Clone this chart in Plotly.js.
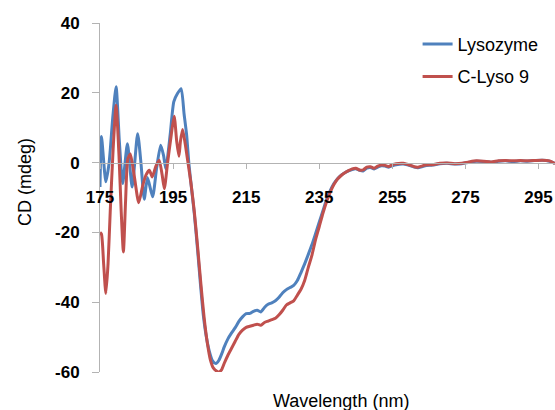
<!DOCTYPE html>
<html>
<head>
<meta charset="utf-8">
<script src="https://cdn.plot.ly/plotly-3.0.1.min.js"></script>
<style>html,body{margin:0;padding:0;background:#fff;}#chart{width:555px;height:410px;}</style>
</head>
<body>
<div id="chart"></div>
<script>
// Lysozyme
const wavelengthLyso = [175.0,175.4,176.6,177.5,178.5,179.4,180.3,181.2,182.5,183.8,185.3,186.2,187.1,188.0,189.4,190.5,191.6,192.4,193.0,194.2,195.2,196.2,197.2,198.0,198.7,199.3,200.0,200.8,201.7,202.5,203.3,204.1,204.9,205.8,206.7,207.5,208.3,209,210,211,212,213,214,215,216,217,218,219,220,221,222,223,224,225,226,227,228,229,230,231,232,233,234,235,236,237,238,239,240,241,242,243,244,245,246,247,248,249,250,251,252,253,254,255,256,258,260,261,262,263,264,266,268,270,272,274,276,278,280,282,284,286,288,290,292,294,296,298,299.5];
const cdLyso = [-7,7.5,-5.5,0,13,21.7,6,-6,5.4,-7,8.3,0,-10.5,-4.3,-9.8,-1.5,5,2,-1.8,8,17.5,19.8,21.2,14,8,0,-7,-14.6,-25,-35,-44,-50,-54,-56.8,-57.6,-56.7,-54.8,-52.8,-50.5,-48.8,-47.3,-45.5,-44.2,-43.3,-43.2,-42.6,-42.3,-42.8,-41.5,-40.6,-40.2,-39.6,-38.6,-37.3,-36.4,-35.8,-35.2,-33.8,-31.5,-29,-26.3,-23.5,-20.3,-17,-13.8,-10.5,-8,-6,-4.6,-3.6,-2.9,-2.4,-2.0,-1.8,-2.2,-2.4,-1.6,-1.4,-1.8,-1.3,-0.9,-1.0,-1.3,-0.9,-0.6,-0.4,-0.9,-1.3,-1.5,-1.2,-0.9,-0.7,-0.3,-0.2,-0.4,-0.3,0.1,0.4,0.3,0.1,0.4,0.5,0.3,0.5,0.4,0.6,0.7,0.4,-0.2];

// C-Lyso 9
const wavelengthCLyso = [175.0,175.4,176.0,176.6,177.2,177.8,178.6,179.4,180.2,180.8,181.4,182.0,182.6,183.3,184.4,185.6,186.7,187.6,188.5,189.3,190.3,191.2,192.0,192.6,193.5,194.5,195.3,196.0,196.6,197.0,197.6,198.3,199.0,199.9,200.8,201.7,202.6,203.5,204.4,205.2,206.0,207.0,207.6,208.3,209,210,211,212,213,214,215,216,217,218,219,220,221,222,223,224,225,226,227,228,229,230,231,232,233,234,235,236,237,238,239,240,241,242,243,244,245,246,247,248,249,250,251,252,253,254,255,256,258,260,261,262,263,264,266,268,270,272,274,276,278,280,282,284,286,288,290,292,294,296,298,299.5];
const cdCLyso = [-20,-20.5,-29,-37.5,-29,-14,4,16.4,2,-14,-25.6,-11,1,2.5,-4,-11.5,-6.5,-3.5,-2.2,-4.1,-1,0.7,-3.5,-7.5,0,8,13.3,6,1.8,6,9.5,5.5,0.5,-6,-14,-24,-34.7,-44.5,-51.9,-56.5,-58.8,-59.8,-60,-59.3,-57.5,-55.2,-53.2,-51.2,-49.2,-48,-47.2,-46.9,-46.6,-46.3,-46.6,-45.8,-45.4,-45,-44.6,-43.6,-42.3,-40.8,-40.2,-39.6,-38,-36.3,-33.8,-30,-26.5,-22,-18.3,-14.5,-11.2,-8.5,-6.3,-4.7,-3.7,-2.9,-2.3,-1.8,-1.6,-2.1,-2.1,-1.3,-1.2,-1.6,-1.0,-0.7,-0.8,-1.1,-0.6,-0.3,-0.2,-0.8,-1.2,-1.3,-1.0,-0.7,-0.6,-0.2,-0.1,-0.3,-0.2,0.2,0.5,0.4,0.2,0.5,0.6,0.5,0.6,0.5,0.6,0.7,0.5,-0.3];

const seriesNames = ["Lysozyme", "C-Lyso 9"];
const xTickValues = [175,195,215,235,255,275,295];
const yTickValues = [40,20,0,-20,-40,-60];
const xTitle = "Wavelength (nm)";
const yTitle = "CD (mdeg)";

const FONT = "Liberation Sans, Arial, sans-serif";
const AXIS_GRAY = "#b3b3b3";

const traces = [
  {x: wavelengthLyso, y: cdLyso, name: seriesNames[0], type: "scatter", mode: "lines",
   line: {color: "#4f81bd", width: 3, shape: "spline", smoothing: 0.6}, legendgroup: "a"},
  {x: wavelengthCLyso, y: cdCLyso, name: seriesNames[1], type: "scatter", mode: "lines",
   line: {color: "#c0504d", width: 3, shape: "spline", smoothing: 0.6}, legendgroup: "b"}
];

const layout = {
  width: 555, height: 410,
  margin: {l: 100, r: 0, t: 23, b: 38, pad: 0},
  paper_bgcolor: "#ffffff", plot_bgcolor: "#ffffff",
  font: {family: FONT, color: "#000"},
  showlegend: true,
  legend: {x: 0.698, y: 0.992, xanchor: "left", yanchor: "top", bgcolor: "rgba(0,0,0,0)",
           font: {family: FONT, size: 18, color: "#000"}, traceorder: "grouped", tracegroupgap: 6},
  xaxis: {
    range: [175, 299.5], anchor: "free", position: 0.6, side: "bottom",
    showline: true, linecolor: AXIS_GRAY, linewidth: 1,
    showgrid: false, zeroline: false,
    tickmode: "array", tickvals: xTickValues, ticktext: xTickValues.map(String),
    ticks: "outside", ticklen: 5, tickcolor: AXIS_GRAY, tickwidth: 1,
    ticklabelstandoff: 14,
    tickfont: {family: FONT, size: 17, weight: "bold", color: "#000"}
  },
  yaxis: {
    range: [-60, 40],
    showline: true, linecolor: AXIS_GRAY, linewidth: 1,
    showgrid: false, zeroline: false,
    tickmode: "array", tickvals: yTickValues, ticktext: yTickValues.map(String),
    ticks: "outside", ticklen: 7, tickcolor: AXIS_GRAY, tickwidth: 1,
    ticklabelstandoff: 9,
    tickfont: {family: FONT, size: 17, weight: "bold", color: "#000"}
  },
  annotations: [
    {text: xTitle, xref: "paper", yref: "paper", x: 0.53, y: -0.083, xanchor: "center", yanchor: "middle",
     showarrow: false, font: {family: FONT, size: 18, color: "#000"}},
    {text: yTitle, xref: "paper", yref: "paper", x: -0.165, y: 0.544, xanchor: "center", yanchor: "middle",
     textangle: -90, showarrow: false, font: {family: FONT, size: 18, color: "#000"}}
  ]
};

Plotly.newPlot("chart", traces, layout, {displayModeBar: false, staticPlot: true});
</script>
</body>
</html>
